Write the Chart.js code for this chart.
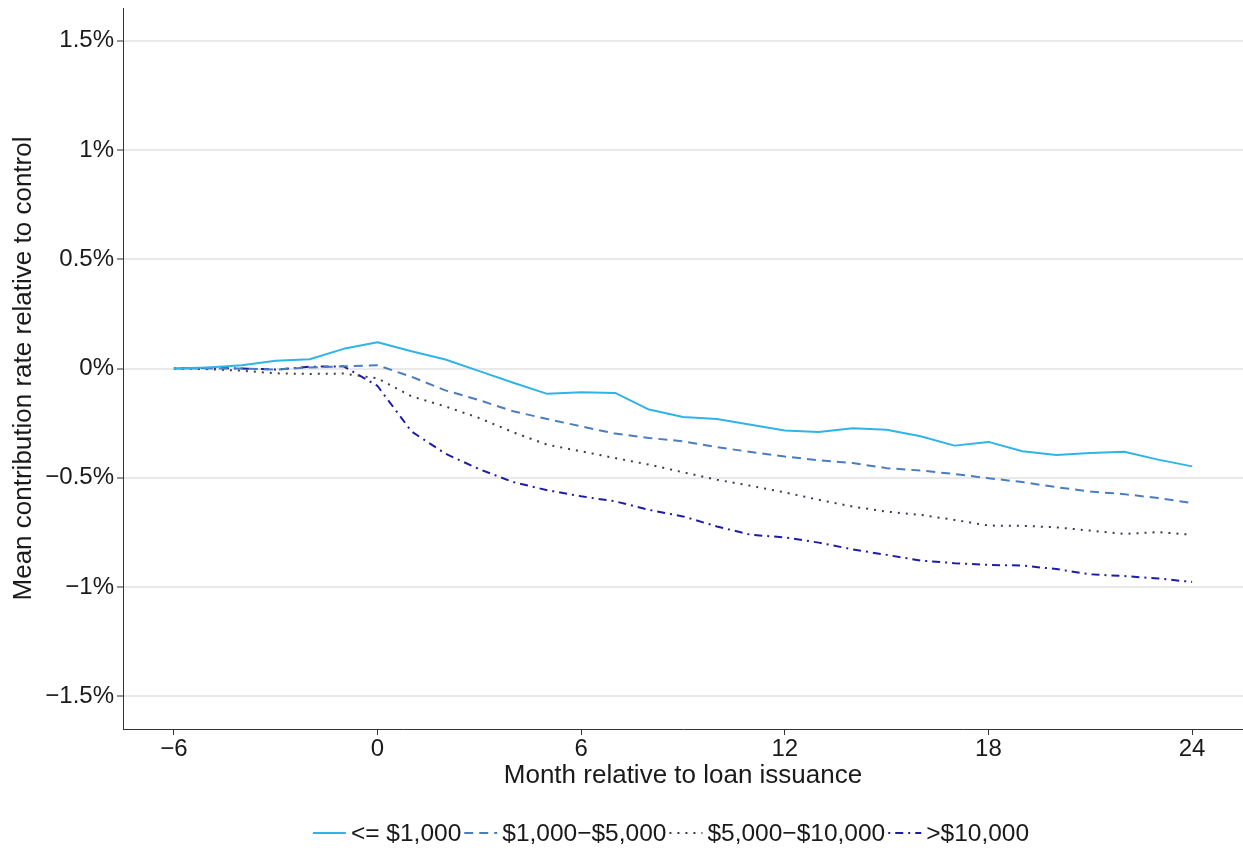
<!DOCTYPE html>
<html>
<head>
<meta charset="utf-8">
<script src="https://cdn.jsdelivr.net/npm/chart.js@4"></script>
<style>
  html, body { margin: 0; padding: 0; background: #ffffff; }
  #wrap { width: 1243px; height: 850px; position: relative; }
</style>
</head>
<body>
<div id="wrap"><canvas id="chart" width="1243" height="850"></canvas></div>
<script>
// Months relative to loan issuance
const months = [-6,-5,-4,-3,-2,-1,0,1,2,3,4,5,6,7,8,9,10,11,12,13,14,15,16,17,18,19,20,21,22,23,24];

// Mean contribution rate relative to control (percentage points), by loan size
const upTo1000 = [0,0.005,0.015,0.035,0.042,0.09,0.12,0.079,0.041,-0.012,-0.065,-0.116,-0.109,-0.112,-0.188,-0.222,-0.231,-0.257,-0.284,-0.291,-0.274,-0.280,-0.310,-0.353,-0.336,-0.379,-0.396,-0.387,-0.381,-0.417,-0.448];
const from1000to5000 = [0,0,0,-0.005,0.005,0.01,0.015,-0.038,-0.10,-0.145,-0.196,-0.231,-0.265,-0.298,-0.318,-0.333,-0.360,-0.382,-0.403,-0.420,-0.433,-0.456,-0.467,-0.483,-0.502,-0.520,-0.543,-0.563,-0.575,-0.593,-0.616];
const from5000to10000 = [0,-0.003,-0.01,-0.022,-0.025,-0.023,-0.045,-0.127,-0.174,-0.227,-0.292,-0.349,-0.379,-0.410,-0.440,-0.475,-0.509,-0.537,-0.567,-0.601,-0.632,-0.655,-0.670,-0.693,-0.719,-0.720,-0.727,-0.742,-0.757,-0.749,-0.761];
const over10000 = [0,0.003,0,-0.005,0.008,0.01,-0.08,-0.288,-0.39,-0.461,-0.52,-0.557,-0.585,-0.608,-0.647,-0.677,-0.723,-0.761,-0.773,-0.797,-0.828,-0.853,-0.879,-0.891,-0.899,-0.902,-0.918,-0.942,-0.950,-0.961,-0.977];

const seriesLabels = ["<= $1,000", "$1,000\u2212$5,000", "$5,000\u2212$10,000", ">$10,000"];

// Axis ticks
const xTickValues = [-6, 0, 6, 12, 18, 24];
const xTickLabels = ["\u22126", "0", "6", "12", "18", "24"];
const yTickValues = [-1.5, -1, -0.5, 0, 0.5, 1, 1.5];
const yTickLabels = ["\u22121.5%", "\u22121%", "\u22120.5%", "0%", "0.5%", "1%", "1.5%"];

const FONT_FAMILY = '"Liberation Sans", Arial, Helvetica, sans-serif';
const TEXT_COLOR = '#1a1a1a';

const toPoints = vals => months.map((m, i) => ({ x: m, y: vals[i] }));

// Horizontal key drawn under the plot: line sample followed by its label
const lineKey = {
  id: 'lineKey',
  afterDraw(chart) {
    const ctx = chart.ctx;
    const sets = chart.data.datasets;
    ctx.save();
    ctx.font = '24.5px ' + FONT_FAMILY;
    ctx.textBaseline = 'middle';
    ctx.textAlign = 'left';
    const sample = 33, gapAfterSample = 5, gapAfterText = 3;
    let total = 0;
    sets.forEach((d, i) => {
      total += sample + gapAfterSample + ctx.measureText(d.label).width;
      if (i < sets.length - 1) total += gapAfterText;
    });
    let x = 671 - total / 2;
    const y = 833;
    sets.forEach(d => {
      ctx.save();
      ctx.strokeStyle = d.borderColor;
      ctx.lineWidth = d.borderWidth;
      ctx.lineCap = 'butt';
      ctx.setLineDash(d.borderDash || []);
      ctx.beginPath();
      ctx.moveTo(x, y);
      ctx.lineTo(x + sample, y);
      ctx.stroke();
      ctx.restore();
      x += sample + gapAfterSample;
      ctx.fillStyle = TEXT_COLOR;
      ctx.fillText(d.label, x, y + 1);
      x += ctx.measureText(d.label).width + gapAfterText;
    });
    ctx.restore();
  }
};

new Chart(document.getElementById('chart'), {
  type: 'line',
  data: {
    datasets: [
      { label: seriesLabels[0], data: toPoints(upTo1000), borderColor: '#2fb4e6', borderWidth: 2, borderDash: [] },
      { label: seriesLabels[1], data: toPoints(from1000to5000), borderColor: '#4a7cc2', borderWidth: 2, borderDash: [9, 6] },
      { label: seriesLabels[2], data: toPoints(from5000to10000), borderColor: '#3c3c50', borderWidth: 2, borderDash: [2, 6] },
      { label: seriesLabels[3], data: toPoints(over10000), borderColor: '#1c1ca8', borderWidth: 2, borderDash: [2, 5, 8, 5] }
    ]
  },
  options: {
    responsive: false,
    animation: false,
    devicePixelRatio: 1,
    layout: { padding: { top: 8, right: 0, bottom: 50, left: 0 } },
    elements: {
      point: { radius: 0, hoverRadius: 0 },
      line: { tension: 0, fill: false, borderCapStyle: 'butt', borderJoinStyle: 'round' }
    },
    plugins: {
      legend: { display: false },
      tooltip: { enabled: false }
    },
    scales: {
      x: {
        type: 'linear',
        min: -7.5,
        max: 25.5,
        afterBuildTicks: s => { s.ticks = xTickValues.map(v => ({ value: v })); },
        afterFit: s => { s.height = 71; s.paddingLeft = 0; s.paddingRight = 0; },
        grid: { drawOnChartArea: false, drawTicks: true, tickLength: 6, tickColor: '#333333', tickWidth: 1 },
        border: { display: true, color: '#333333', width: 1 },
        ticks: {
          padding: 0,
          color: TEXT_COLOR,
          font: { family: FONT_FAMILY, size: 24 },
          maxRotation: 0,
          autoSkip: false,
          callback: v => xTickLabels[xTickValues.indexOf(v)]
        },
        title: {
          display: true,
          text: 'Month relative to loan issuance',
          color: TEXT_COLOR,
          font: { family: FONT_FAMILY, size: 26 },
          padding: { top: 0, bottom: 9 }
        }
      },
      y: {
        type: 'linear',
        min: -1.65,
        max: 1.65,
        afterBuildTicks: s => { s.ticks = yTickValues.map(v => ({ value: v })); },
        afterFit: s => { s.width = 123; s.paddingTop = 0; s.paddingBottom = 0; },
        grid: { drawOnChartArea: true, color: '#e9e9e9', lineWidth: 2, drawTicks: true, tickLength: 6, tickColor: '#333333', tickWidth: 1 },
        border: { display: true, color: '#333333', width: 1 },
        ticks: {
          padding: 3,
          color: TEXT_COLOR,
          font: { family: FONT_FAMILY, size: 24 },
          autoSkip: false,
          callback: v => yTickLabels[yTickValues.indexOf(v)]
        },
        title: {
          display: true,
          text: 'Mean contribution rate relative to control',
          color: TEXT_COLOR,
          font: { family: FONT_FAMILY, size: 26 },
          padding: { top: 8, bottom: 0 }
        }
      }
    }
  },
  plugins: [lineKey]
});
</script>
</body>
</html>
